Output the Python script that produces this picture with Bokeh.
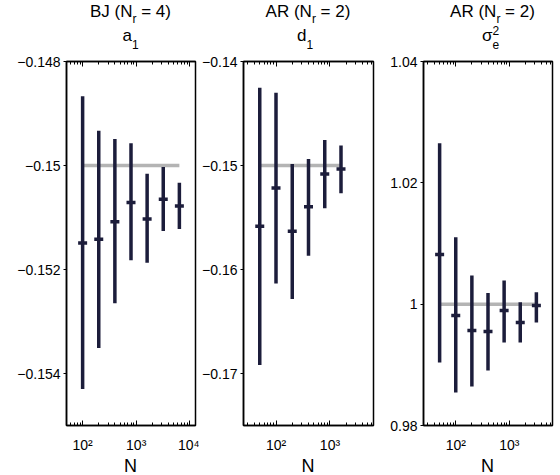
from bokeh.plotting import figure
from bokeh.layouts import row, column
from bokeh.models import FixedTicker, CustomJSTickFormatter, LogAxis, Range1d, Div
from bokeh.embed import file_html
from bokeh.resources import INLINE

# ---------------- data ----------------
# Panel 1: BJ (N_r = 4), parameter a1
N_a1 = [100, 200, 400, 800, 1600, 3200, 6400]
a1_mean = [-0.15149, -0.15142, -0.15108, -0.15071, -0.15103, -0.15065, -0.15078]
a1_low = [-0.15430, -0.15351, -0.15265, -0.15182, -0.15187, -0.15126, -0.15122]
a1_high = [-0.14867, -0.14933, -0.14949, -0.14957, -0.15016, -0.15003, -0.15033]
a1_true = -0.15

# Panel 2: AR (N_r = 2), parameter d1
N_d1 = [50, 100, 200, 400, 800, 1600]
d1_mean = [-0.15585, -0.15216, -0.15633, -0.15396, -0.15081, -0.15033]
d1_low = [-0.16919, -0.16134, -0.16284, -0.15867, -0.15412, -0.15268]
d1_high = [-0.14253, -0.14301, -0.14985, -0.14937, -0.14754, -0.14808]
d1_true = -0.15

# Panel 3: AR (N_r = 2), noise variance sigma_e^2
N_s2 = [50, 100, 200, 400, 800, 1600, 3200]
s2_mean = [1.00818, 0.99812, 0.99565, 0.99548, 0.99894, 0.99697, 0.99977]
s2_low = [0.99037, 0.98543, 0.98641, 0.98905, 0.99367, 0.99367, 0.99697]
s2_high = [1.02653, 1.01103, 1.00472, 1.00186, 1.00389, 1.00031, 1.00196]
s2_true = 1.0

# axis ticks / labels
y1_ticks = [-0.154, -0.152, -0.15, -0.148]
y1_labels = ["\u22120.154", "\u22120.152", "\u22120.15", "\u22120.148"]
y2_ticks = [-0.17, -0.16, -0.15, -0.14]
y2_labels = ["\u22120.17", "\u22120.16", "\u22120.15", "\u22120.14"]
y3_ticks = [0.98, 1.0, 1.02, 1.04]
y3_labels = ["0.98", "1", "1.02", "1.04"]
x_ticks = [100, 1000, 10000]
x_labels = ["10\u00b2", "10\u00b3", "10\u2074"]
x_minor = [20, 30, 40, 50, 60, 70, 80, 90, 200, 300, 400, 500, 600, 700, 800, 900,
           2000, 3000, 4000, 5000, 6000, 7000, 8000, 9000]

# ---------------- style ----------------
BAR = "#1c1d3b"
TRUE_C = "#b4b4b4"
FONT = "Liberation Sans"
TITLE_H = 53
FIG_TOP = 8
FIG_BOTTOM = 33
FRAME_H = 364
N_H = 17
FIG_H = FRAME_H + FIG_TOP + FIG_BOTTOM


def fmt(vals, labs):
    return CustomJSTickFormatter(args=dict(v=vals, l=labs), code="""
        let b = 0;
        for (let i = 0; i < v.length; i++) {
            if (Math.abs(v[i] - tick) < Math.abs(v[b] - tick)) b = i;
        }
        return l[b];
    """)


def title_div(width, bl, fw, line1, line2, off1=0, off2=0):
    base = (f"position:absolute; width:{fw}px; text-align:center; font-family:'{FONT}';"
            f" font-size:17px; line-height:17px; color:black; white-space:nowrap;")
    html = (f'<div style="position:relative; width:{width}px; height:{TITLE_H}px;">'
            f'<div style="{base} left:{bl + off1}px; top:3px;">{line1}</div>'
            f'<div style="{base} left:{bl + off2}px; top:27px;">{line2}</div>'
            f'</div>')
    return Div(text=html, width=width, height=TITLE_H, margin=0)


def n_div(width, bl, fw):
    html = (f'<div style="position:relative; width:{width}px; height:{N_H}px;">'
            f'<div style="position:absolute; left:{bl}px; top:0px; width:{fw}px; text-align:center;'
            f" font-family:'{FONT}'; font-size:18px; line-height:16px; color:black;\">N</div>"
            f'</div>')
    return Div(text=html, width=width, height=N_H, margin=0)


def sub(t, dy):
    return f'<span style="font-size:12px; position:relative; top:{dy}px;">{t}</span>'


def panel(N, mean, low, high, truth, xr, yr, yt, yl, width, bl, br):
    p = figure(width=width, height=FIG_H, x_axis_type="log",
               x_range=Range1d(*xr), y_range=Range1d(*yr),
               output_backend="svg", toolbar_location=None,
               min_border_left=bl, min_border_right=br,
               min_border_top=FIG_TOP, min_border_bottom=FIG_BOTTOM)
    p.xgrid.visible = False
    p.ygrid.visible = False
    p.outline_line_color = "black"
    p.outline_line_width = 1.5
    p.outline_line_alpha = 1.0

    xa = p.xaxis[0]
    xa.ticker = FixedTicker(ticks=x_ticks, minor_ticks=x_minor)
    xa.formatter = fmt(x_ticks, x_labels)
    xa.major_tick_in = 5
    xa.major_tick_out = 0
    xa.minor_tick_in = 3
    xa.minor_tick_out = 0
    xa.axis_line_width = 1.5
    xa.major_label_standoff = 11
    xa.major_label_text_font = FONT
    xa.major_label_text_font_size = "14px"
    xa.major_label_text_color = "black"

    top = LogAxis(ticker=FixedTicker(ticks=x_ticks, minor_ticks=x_minor),
                  formatter=CustomJSTickFormatter(code="return '';"),
                  major_tick_in=5, major_tick_out=0, minor_tick_in=3, minor_tick_out=0,
                  axis_line_width=1.5, major_label_standoff=0,
                  major_label_text_font_size="1px")
    p.add_layout(top, "above")

    ya = p.yaxis[0]
    ya.ticker = FixedTicker(ticks=yt, minor_ticks=[])
    ya.formatter = fmt(yt, yl)
    ya.major_tick_in = 0
    ya.major_tick_out = 3
    ya.minor_tick_in = 0
    ya.minor_tick_out = 0
    ya.axis_line_width = 1.5
    ya.major_label_standoff = 3
    ya.major_label_text_font = FONT
    ya.major_label_text_font_size = "14px"
    ya.major_label_text_color = "black"

    # true value
    p.line(x=[N[0], N[-1]], y=[truth, truth], line_color=TRUE_C, line_width=3.5)
    # error bars and estimates
    p.segment(x0=N, y0=low, x1=N, y1=high, line_color=BAR, line_width=3.5)
    p.scatter(x=N, y=mean, marker="dash", size=9, line_color=BAR, line_width=3.5)
    return p


W1, L1, R1 = 199, 66, 4
W2, L2, R2 = 178, 44, 4
W3, L3, R3 = 183, 46, 8

p1 = panel(N_a1, a1_mean, a1_low, a1_high, a1_true, (50, 12800), (-0.155, -0.148),
           y1_ticks, y1_labels, W1, L1, R1)
p2 = panel(N_d1, d1_mean, d1_low, d1_high, d1_true, (25, 6400), (-0.175, -0.14),
           y2_ticks, y2_labels, W2, L2, R2)
p3 = panel(N_s2, s2_mean, s2_low, s2_high, s2_true, (25, 6400), (0.98, 1.04),
           y3_ticks, y3_labels, W3, L3, R3)

t1 = title_div(W1, L1, W1 - L1 - R1, "BJ (N" + sub("r", 6) + " = 4)", "a" + sub("1", 8))
t2 = title_div(W2, L2, W2 - L2 - R2, "AR (N" + sub("r", 6) + " = 2)", "d" + sub("1", 8), off2=-3)
sig = ("\u03c3" + sub("e", 8)
       + '<span style="font-size:12px; position:relative; top:-6px; margin-left:-6.7px;">2</span>')
t3 = title_div(W3, L3, W3 - L3 - R3, "AR (N" + sub("r", 6) + " = 2)", sig, off1=5, off2=3)

c1 = column(t1, p1, n_div(W1, L1, W1 - L1 - R1))
c2 = column(t2, p2, n_div(W2, L2, W2 - L2 - R2))
c3 = column(t3, p3, n_div(W3, L3, W3 - L3 - R3))

layout = row(c1, c2, c3)
open("out.html", "w").write(file_html(layout, INLINE))
